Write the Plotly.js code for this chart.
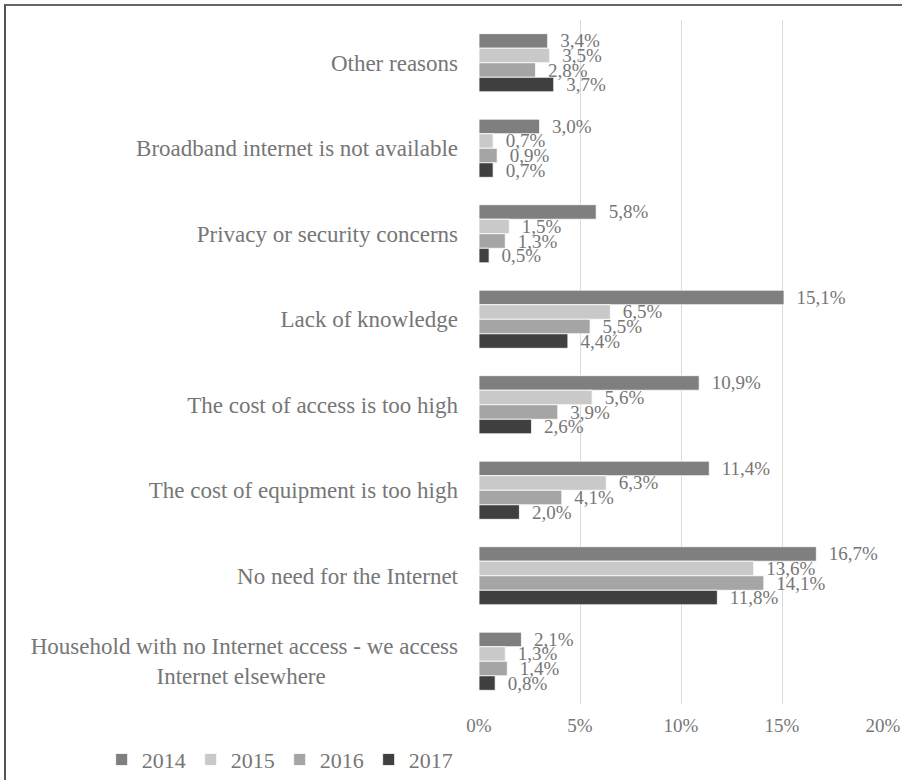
<!DOCTYPE html>
<html>
<head>
<meta charset="utf-8">
<script src="https://cdn.plot.ly/plotly-3.0.1.min.js"></script>
<style>
  html, body { margin: 0; padding: 0; background: #fff; }
  #wrap { position: relative; width: 902px; height: 780px; overflow: hidden; }
  #chart { position: absolute; left: 0; top: 0; width: 902px; height: 780px; }
  #frame { position: absolute; left: 4px; top: 4px; width: 920px; height: 800px;
           border-top: 2px solid #666; border-left: 2px solid #555; pointer-events: none; }
</style>
</head>
<body>
<div id="wrap"><div id="chart"></div><div id="frame"></div></div>
<script>
// Categories, top to bottom as shown
const categories = [
  "Other reasons",
  "Broadband internet is not available",
  "Privacy or security concerns",
  "Lack of knowledge",
  "The cost of access is too high",
  "The cost of equipment is too high",
  "No need for the Internet",
  "Household with no Internet access - we access Internet elsewhere"
];
const categoryLabels = [
  "Other reasons",
  "Broadband internet is not available",
  "Privacy or security concerns",
  "Lack of knowledge",
  "The cost of access is too high",
  "The cost of equipment is too high",
  "No need for the Internet",
  "Household with no Internet access - we access<br>Internet elsewhere" + "\u00a0".repeat(23)
];
const years = ["2014", "2015", "2016", "2017"];
const v2014 = [3.4, 3.0, 5.8, 15.1, 10.9, 11.4, 16.7, 2.1];
const v2015 = [3.5, 0.7, 1.5, 6.5, 5.6, 6.3, 13.6, 1.3];
const v2016 = [2.8, 0.9, 1.3, 5.5, 3.9, 4.1, 14.1, 1.4];
const v2017 = [3.7, 0.7, 0.5, 4.4, 2.6, 2.0, 11.8, 0.8];
const xTicks = [0, 5, 10, 15, 20];
const xTickText = ["0%", "5%", "10%", "15%", "20%"];

const series = [v2014, v2015, v2016, v2017];
const colors = ["#7f7f7f", "#c9c9c9", "#a5a5a5", "#404040"];
const FONT = "Liberation Serif, Times New Roman, serif";
const TXT = "#767676";

const traces = series.map((vals, i) => ({
  type: "bar",
  orientation: "h",
  name: years[i],
  y: categories,
  x: vals,
  marker: { color: colors[i], line: { color: "#ffffff", width: 0.8 } },
  texttemplate: "\u00a0\u00a0%{x:.1f}%",
  textposition: "outside",
  constraintext: "none",
  cliponaxis: false,
  textfont: { family: FONT, size: 19, color: TXT },
  hoverinfo: "skip"
}));

const layout = {
  width: 902,
  height: 780,
  margin: { l: 479, r: 19, t: 20, b: 76, autoexpand: false },
  paper_bgcolor: "#ffffff",
  plot_bgcolor: "#ffffff",
  font: { family: FONT, color: TXT },
  separators: ", ",
  barmode: "group",
  bargap: 0.32,
  bargroupgap: 0,
  showlegend: true,
  legend: {
    orientation: "h",
    xref: "container", yref: "container",
    x: 0.1127, xanchor: "left",
    y: 0.026, yanchor: "middle",
    font: { family: FONT, size: 22, color: TXT },
    itemwidth: 30,
    bgcolor: "rgba(0,0,0,0)"
  },
  xaxis: {
    range: [0, 20],
    tickvals: xTicks,
    ticktext: xTickText,
    showgrid: true,
    gridcolor: "#d9d9d9",
    gridwidth: 1,
    zeroline: false,
    showline: false,
    ticks: "",
    ticklabelstandoff: 8,
    tickfont: { family: FONT, size: 19, color: TXT },
    fixedrange: true
  },
  yaxis: {
    type: "category",
    autorange: "reversed",
    tickvals: categories,
    ticktext: categoryLabels,
    showgrid: false,
    zeroline: false,
    showline: false,
    ticks: "",
    ticklabelstandoff: 20,
    tickfont: { family: FONT, size: 23, color: TXT },
    fixedrange: true
  }
};

Plotly.newPlot("chart", traces, layout, { displayModeBar: false, staticPlot: true });
</script>
</body>
</html>
